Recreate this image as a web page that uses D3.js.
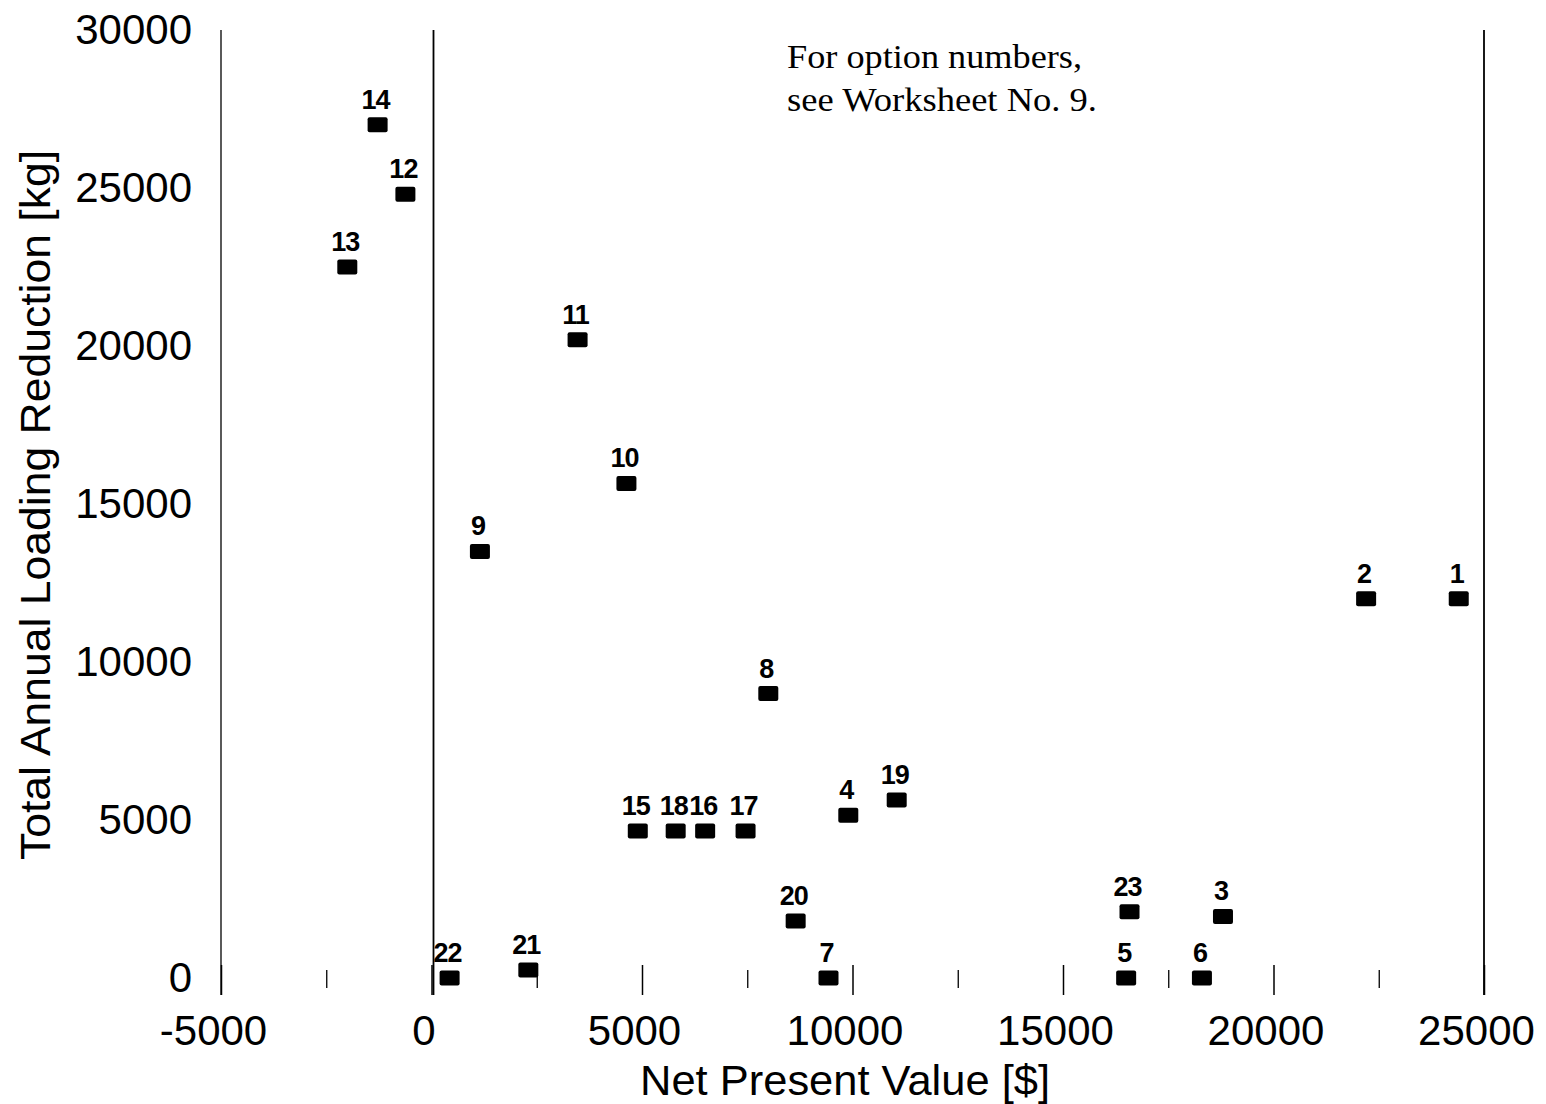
<!DOCTYPE html>
<html>
<head>
<meta charset="utf-8">
<script src="https://cdn.jsdelivr.net/npm/d3@7"></script>
<style>
  body { margin: 0; background: #fff; }
  svg { display: block; }
</style>
</head>
<body>
<div id="chart"></div>
<script>
// option numbers with net present value ($) and loading reduction (kg)
var options = ['1', '2', '3', '4', '5', '6', '7', '8', '9', '10', '11', '12',
  '13', '14', '15', '16', '17', '18', '19', '20', '21', '22', '23'];
var npv = [24400, 22200, 18800, 9900, 16500, 18300, 9430, 8000, 1150, 4630, 3470, -620,
  -2000, -1280, 4900, 6500, 7460, 5800, 11050, 8650, 2300, 430, 16580];
var reduction = [12000, 12000, 1950, 5150, 0, 0, 0, 9000, 13500, 15650, 20200, 24800,
  22500, 27000, 4650, 4650, 4650, 4650, 5630, 1800, 250, 0, 2100];

var xMajor = [-5000, 0, 5000, 10000, 15000, 20000, 25000];
var xMinor = [-2500, 2500, 7500, 12500, 17500, 22500];
var yTicks = [0, 5000, 10000, 15000, 20000, 25000, 30000];
var fullLines = [-5000, 0, 25000];
var note = ['For option numbers,', 'see Worksheet No. 9.'];

var W = 1546, H = 1104;

var svg = d3.select('#chart')
  .append('svg')
  .attr('width', W)
  .attr('height', H);

var x = d3.scaleLinear()
  .domain([-5000, 25000])
  .range([221, 1484]);

var y = d3.scaleLinear()
  .domain([0, 30000])
  .range([978, 30]);

var sans = '"Liberation Sans", Arial, sans-serif';
var plain = (d) => String(d); // keep the hyphen minus, as in the original

// full height vertical lines
svg.selectAll('.vline')
  .data(fullLines)
  .enter().append('line')
  .attr('class', 'vline')
  .attr('x1', (d) => x(d) + (d === 0 ? 2 : 0))
  .attr('x2', (d) => x(d) + (d === 0 ? 2 : 0))
  .attr('y1', 30)
  .attr('y2', 995)
  .attr('stroke', '#000')
  .attr('stroke-width', (d) => d === -5000 ? 1.3 : 1.8);

// x axis, major ticks + labels
var gx = svg.append('g')
  .attr('transform', 'translate(0,965)')
  .call(d3.axisBottom(x)
    .tickValues(xMajor)
    .tickSize(30)
    .tickPadding(20)
    .tickFormat(plain));

gx.select('.domain').remove();
gx.selectAll('.tick line').attr('stroke-width', 1.5);
gx.selectAll('.tick text')
  .attr('font-family', sans)
  .attr('font-size', 42)
  .attr('fill', '#000')
  .attr('dx', -8);

// minor ticks
var gxm = svg.append('g')
  .attr('transform', 'translate(0,970)')
  .call(d3.axisBottom(x)
    .tickValues(xMinor)
    .tickSize(18)
    .tickFormat(''));
gxm.select('.domain').remove();
gxm.selectAll('.tick line').attr('stroke-width', 1.3);

// y axis
var gy = svg.append('g')
  .attr('transform', 'translate(192,0)')
  .call(d3.axisLeft(y)
    .tickValues(yTicks)
    .tickSize(0)
    .tickPadding(0)
    .tickFormat(plain));

gy.select('.domain').remove();
gy.selectAll('.tick text')
  .attr('font-family', sans)
  .attr('font-size', 42)
  .attr('fill', '#000');

// axis titles
svg.append('text')
  .attr('x', 845)
  .attr('y', 1095)
  .attr('text-anchor', 'middle')
  .attr('font-family', sans)
  .attr('font-size', 43)
  .attr('textLength', 410)
  .attr('lengthAdjust', 'spacingAndGlyphs')
  .text('Net Present Value [$]');

svg.append('text')
  .attr('transform', 'translate(50,505) rotate(-90)')
  .attr('text-anchor', 'middle')
  .attr('font-family', sans)
  .attr('font-size', 42)
  .attr('textLength', 710)
  .attr('lengthAdjust', 'spacingAndGlyphs')
  .text('Total Annual Loading Reduction [kg]');

// note
var noteLen = [295, 310];
svg.selectAll('.note')
  .data(note)
  .enter().append('text')
  .attr('class', 'note')
  .attr('x', 787)
  .attr('y', (d, i) => 68 + i * 43)
  .attr('font-family', '"Liberation Serif", "Times New Roman", serif')
  .attr('font-size', 34)
  .attr('textLength', (d, i) => noteLen[i])
  .attr('lengthAdjust', 'spacingAndGlyphs')
  .text((d) => d);

// points
var pts = options.map((d, i) => ({ id: d, npv: npv[i], red: reduction[i] }));

svg.selectAll('.dot')
  .data(pts)
  .enter().append('rect')
  .attr('class', 'dot')
  .attr('x', (d) => x(d.npv) - 10)
  .attr('y', (d) => y(d.red) - 7.5)
  .attr('width', 20)
  .attr('height', 15)
  .attr('rx', 2)
  .attr('fill', '#000');

svg.selectAll('.lbl')
  .data(pts)
  .enter().append('text')
  .attr('class', 'lbl')
  .attr('x', (d) => x(d.npv) - 2)
  .attr('y', (d) => y(d.red) - 16)
  .attr('text-anchor', 'middle')
  .attr('font-family', sans)
  .attr('font-weight', 'bold')
  .attr('font-size', 27)
  .attr('letter-spacing', -1)
  .text((d) => d.id);
</script>
</body>
</html>
